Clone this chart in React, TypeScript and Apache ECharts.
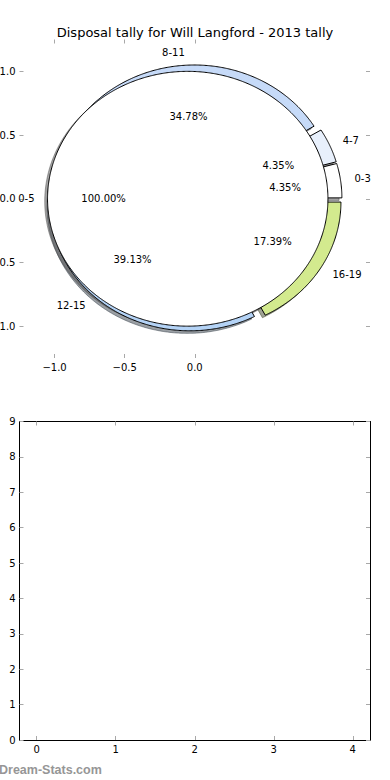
import React, { useEffect, useRef } from "react";
import * as echarts from "echarts";

// ---- data ----
const bandLabels = ["0-3", "4-7", "8-11", "12-15", "16-19"];
const bandCounts = [1, 1, 8, 9, 4];
const totalLabels = ["0-5"];
const totalCounts = [23];
const pieXTicks = [-1.0, -0.5, 0.0];
const pieYTicks = [-1.0, -0.5, 0.0, 0.5, 1.0];
const emptyXTicks = [0, 1, 2, 3, 4];
const emptyYTicks = [0, 1, 2, 3, 4, 5, 6, 7, 8, 9];
const titleText = "Disposal tally for Will Langford - 2013 tally";
const watermarkText = "Dream-Stats.com";

// ---- styles ----
const bandColors = ["#ffffff", "#e8f0fc", "#c6daf8", "#b4d3f6", "#d3ea8e"];
const totalColors = ["#ffffff"];
const EXPLODE = 0.05;
const SHADOW_OFF = -0.02;
const FONT = "DejaVu Sans";

type Wedge = {
  label: string;
  color: string;
  t1: number;
  t2: number;
  cx: number;
  cy: number;
  pct: string;
  lx: number;
  ly: number;
  px: number;
  py: number;
};

function buildPie(labels: string[], counts: number[], colors: string[], explode: number): Wedge[] {
  const total = counts.reduce((a, b) => a + b, 0);
  let f1 = 0;
  return counts.map((c, i) => {
    const frac = c / total;
    const f2 = f1 + frac;
    const tm = Math.PI * (f1 + f2);
    const cx = explode * Math.cos(tm);
    const cy = explode * Math.sin(tm);
    const w: Wedge = {
      label: labels[i],
      color: colors[i],
      t1: f1 * 2 * Math.PI,
      t2: f2 * 2 * Math.PI,
      cx,
      cy,
      pct: (frac * 100).toFixed(2) + "%",
      lx: cx + 1.1 * Math.cos(tm),
      ly: cy + 1.1 * Math.sin(tm),
      px: cx + 0.6 * Math.cos(tm),
      py: cy + 0.6 * Math.sin(tm),
    };
    f1 = f2;
    return w;
  });
}

const bandWedges = buildPie(bandLabels, bandCounts, bandColors, EXPLODE);
const totalWedges = buildPie(totalLabels, totalCounts, totalColors, EXPLODE);
const allWedges = [...bandWedges, ...totalWedges];

function wedgePoints(api: any, w: Wedge, dx: number, dy: number) {
  const full = w.t2 - w.t1 >= 2 * Math.PI - 1e-9;
  const pts: number[][] = [];
  if (!full) pts.push(api.coord([w.cx + dx, w.cy + dy]));
  const n = Math.max(4, Math.ceil((w.t2 - w.t1) / (Math.PI / 360)));
  for (let k = 0; k <= n; k++) {
    const a = w.t1 + ((w.t2 - w.t1) * k) / n;
    pts.push(api.coord([w.cx + dx + Math.cos(a), w.cy + dy + Math.sin(a)]));
  }
  return pts;
}

function shadowColor(hex: string) {
  const r = parseInt(hex.slice(1, 3), 16);
  const g = parseInt(hex.slice(3, 5), 16);
  const b = parseInt(hex.slice(5, 7), 16);
  return `rgba(${Math.round(r * 0.3)},${Math.round(g * 0.3)},${Math.round(b * 0.3)},0.5)`;
}

const fmtPie = (v: number) => (v < 0 ? "\u2212" : "") + Math.abs(v).toFixed(1);

const tickStyle = { color: "#a8a8a8", width: 1 };
const labelStyle = { fontSize: 10, fontFamily: FONT, color: "#000" };

function wedgeSeries(list: Wedge[], z: number, shadow: boolean) {
  return {
    type: "custom",
    xAxisIndex: 0,
    yAxisIndex: 0,
    silent: true,
    clip: false,
    z,
    data: list.map((w) => [w.cx, w.cy]),
    renderItem: (params: any, api: any) => {
      const w = list[params.dataIndex];
      const off = shadow ? SHADOW_OFF : 0;
      const col = shadow ? shadowColor(w.color) : w.color;
      return {
        type: "polygon",
        shape: { points: wedgePoints(api, w, off, off) },
        style: { fill: col, stroke: shadow ? col : "#000", lineWidth: 1 },
      };
    },
  };
}

export default function App() {
  const ref = useRef<HTMLDivElement>(null);
  useEffect(() => {
    if (!ref.current) return;
    const chart = echarts.init(ref.current, null, { renderer: "svg" });
    const option: any = {
      animation: false,
      backgroundColor: "#ffffff",
      title: {
        text: titleText,
        left: "center",
        top: 21,
        textStyle: { fontSize: 13, fontFamily: FONT, fontWeight: "normal", color: "#000" },
      },
      grid: [
        { left: 19.5, top: 39.5, width: 350.5, height: 318.5, containLabel: false, outerBoundsMode: "none" },
        { left: 19.5, top: 421.5, width: 350.5, height: 318.5, containLabel: false, outerBoundsMode: "none" },
      ],
      xAxis: [
        {
          gridIndex: 0, type: "value", min: -1.25, max: 1.25, position: "bottom",
          axisLine: { show: false, onZero: false },
          splitLine: { show: false },
          axisTick: { show: true, inside: true, length: 4, customValues: pieXTicks, lineStyle: tickStyle },
          axisLabel: { ...labelStyle, customValues: pieXTicks, formatter: fmtPie, margin: 4 },
        },
        {
          gridIndex: 0, type: "value", min: -1.25, max: 1.25, position: "top",
          axisLine: { show: false, onZero: false },
          splitLine: { show: false },
          axisTick: { show: true, inside: true, length: 4, customValues: pieXTicks, lineStyle: tickStyle },
          axisLabel: { show: false },
        },
        {
          gridIndex: 1, type: "value", min: -0.218, max: 4.218, position: "bottom",
          axisLine: { show: true, onZero: false, lineStyle: { color: "#000", width: 1 } },
          splitLine: { show: false },
          axisTick: { show: true, inside: true, length: 4, customValues: emptyXTicks, lineStyle: tickStyle },
          axisLabel: { ...labelStyle, customValues: emptyXTicks, formatter: (v: number) => String(v), margin: 4 },
        },
        {
          gridIndex: 1, type: "value", min: -0.218, max: 4.218, position: "top",
          axisLine: { show: true, onZero: false, lineStyle: { color: "#000", width: 1 } },
          splitLine: { show: false },
          axisTick: { show: true, inside: true, length: 4, customValues: emptyXTicks, lineStyle: tickStyle },
          axisLabel: { show: false },
        },
      ],
      yAxis: [
        {
          gridIndex: 0, type: "value", min: -1.25, max: 1.25, position: "left",
          axisLine: { show: false, onZero: false },
          splitLine: { show: false },
          axisTick: { show: true, inside: true, length: 4, customValues: pieYTicks, lineStyle: tickStyle },
          axisLabel: { ...labelStyle, customValues: pieYTicks, formatter: fmtPie, margin: 4 },
        },
        {
          gridIndex: 0, type: "value", min: -1.25, max: 1.25, position: "right",
          axisLine: { show: false, onZero: false },
          splitLine: { show: false },
          axisTick: { show: true, inside: true, length: 4, customValues: pieYTicks, lineStyle: tickStyle },
          axisLabel: { show: false },
        },
        {
          gridIndex: 1, type: "value", min: 0, max: 9, interval: 1, position: "left",
          axisLine: { show: true, onZero: false, lineStyle: { color: "#000", width: 1 } },
          splitLine: { show: false },
          axisTick: { show: true, inside: true, length: 4, customValues: emptyYTicks, lineStyle: tickStyle },
          axisLabel: { ...labelStyle, customValues: emptyYTicks, formatter: (v: number) => String(v), margin: 4 },
        },
        {
          gridIndex: 1, type: "value", min: 0, max: 9, interval: 1, position: "right",
          axisLine: { show: true, onZero: false, lineStyle: { color: "#000", width: 1 } },
          splitLine: { show: false },
          axisTick: { show: true, inside: true, length: 4, customValues: emptyYTicks, lineStyle: tickStyle },
          axisLabel: { show: false },
        },
      ],
      series: [
        wedgeSeries(allWedges, 1, true),
        wedgeSeries(bandWedges, 2, false),
        wedgeSeries(totalWedges, 3, false),
        {
          type: "custom",
          xAxisIndex: 0,
          yAxisIndex: 0,
          silent: true,
          clip: false,
          z: 4,
          data: allWedges.map((w) => [w.lx, w.ly]),
          renderItem: (params: any, api: any) => {
            const w = allWedges[params.dataIndex];
            const lp = api.coord([w.lx, w.ly]);
            const pp = api.coord([w.px, w.py]);
            return {
              type: "group",
              children: [
                {
                  type: "text",
                  x: lp[0] + (w.lx > 0 ? 0 : 1),
                  y: lp[1],
                  style: {
                    text: w.label,
                    align: w.lx > 0 ? "left" : "right",
                    verticalAlign: "middle",
                    fontSize: 10,
                    fontFamily: FONT,
                    fill: "#000",
                  },
                },
                {
                  type: "text",
                  x: pp[0],
                  y: pp[1],
                  style: {
                    text: w.pct,
                    align: "center",
                    verticalAlign: "middle",
                    fontSize: 10,
                    fontFamily: FONT,
                    fill: "#000",
                  },
                },
              ],
            };
          },
        },
      ],
      graphic: [
        {
          type: "text",
          left: -1,
          top: 763,
          style: {
            text: watermarkText,
            fontSize: 12.5,
            fontWeight: "bold",
            fontFamily: "Liberation Sans",
            fill: "#969696",
          },
        },
      ],
    };
    chart.setOption(option);
    return () => chart.dispose();
  }, []);
  return (
    <div
      ref={ref}
      style={{ position: "absolute", left: 0, top: 0, width: 390, height: 780 }}
    />
  );
}
